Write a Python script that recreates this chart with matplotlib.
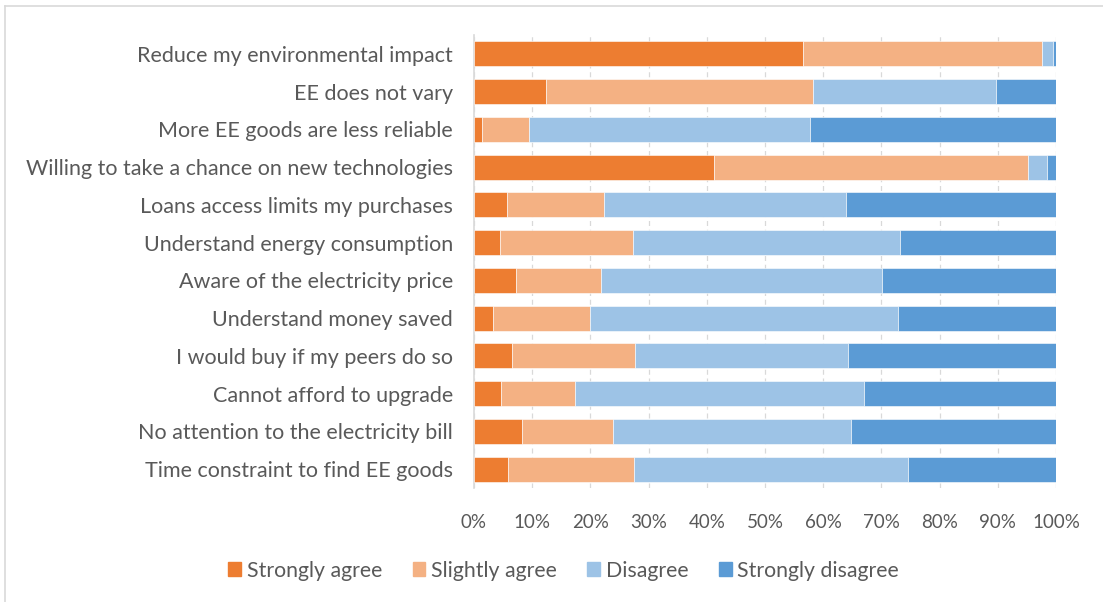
import matplotlib.pyplot as plt
from matplotlib.lines import Line2D
from matplotlib.ticker import PercentFormatter

# --- data (percent of respondents) ---
statements = [
    "Reduce my environmental impact",
    "EE does not vary",
    "More EE goods are less reliable",
    "Willing to take a chance on new technologies",
    "Loans access limits my purchases",
    "Understand energy consumption",
    "Aware of the electricity price",
    "Understand money saved",
    "I would buy if my peers do so",
    "Cannot afford to upgrade",
    "No attention to the electricity bill",
    "Time constraint to find EE goods",
]
strongly_agree = [56.5, 12.4, 1.4, 41.2, 5.6, 4.4, 7.3, 3.2, 6.5, 4.6, 8.2, 5.9]
slightly_agree = [41.1, 45.8, 8.1, 54.0, 16.8, 22.9, 14.5, 16.7, 21.1, 12.7, 15.7, 21.6]
disagree = [1.9, 31.5, 48.3, 3.2, 41.5, 45.9, 48.3, 53.0, 36.6, 49.7, 40.9, 47.0]
strongly_disagree = [0.5, 10.3, 42.2, 1.6, 36.1, 26.8, 29.9, 27.1, 35.8, 33.0, 35.2, 25.5]

series = [
    ("Strongly agree", strongly_agree, "#ED7D31"),
    ("Slightly agree", slightly_agree, "#F4B183"),
    ("Disagree", disagree, "#9DC3E6"),
    ("Strongly disagree", strongly_disagree, "#5B9BD5"),
]

plt.rcParams['font.family'] = ['Lato', 'DejaVu Sans']

fig = plt.figure(figsize=(11.03, 6.02), dpi=100)
ax = fig.add_axes([0.4297, 0.1894, 0.5277, 0.7525])

ypos = list(range(len(statements)))
left = [0.0] * len(statements)
for name, vals, col in series:
    ax.barh(ypos, vals, left=left, height=0.66, color=col, label=name,
            edgecolor="white", linewidth=0.4, zorder=3)
    left = [a + b for a, b in zip(left, vals)]

ax.set_xlim(0, 100)
ax.set_ylim(len(statements) - 0.5, -0.5)
ax.set_yticks(ypos)
ax.set_yticklabels(statements)
ax.set_xticks(range(0, 101, 10))
ax.xaxis.set_major_formatter(PercentFormatter(decimals=0))

ax.grid(axis="x", color="#D9D9D9", linestyle=(0, (4, 3)), linewidth=0.9, zorder=0)
for s in ["top", "right", "bottom"]:
    ax.spines[s].set_visible(False)
ax.spines["left"].set_color("#D9D9D9")
ax.spines["left"].set_linewidth(1.2)
ax.tick_params(axis="both", length=0, colors="#595959")
ax.tick_params(axis="y", pad=15, labelsize=15.5)
ax.tick_params(axis="x", pad=19, labelsize=13.5)

handles = [plt.Rectangle((0, 0), 1, 1, color=c) for _, _, c in series]
fig.legend(handles, [n for n, _, _ in series], loc="center",
           bbox_to_anchor=(0.511, 0.052), ncol=4, frameon=False,
           fontsize=15.3, labelcolor="#595959", handlelength=0.6,
           handleheight=0.6, handletextpad=0.25, columnspacing=1.45)

# chart area border (light gray, only top and left visible in the crop)
fig.add_artist(Line2D([5 / 1103, 1], [1 - 6 / 602, 1 - 6 / 602],
                      color="#D9D9D9", linewidth=1.2))
fig.add_artist(Line2D([5 / 1103, 5 / 1103], [0, 1 - 6 / 602],
                      color="#D9D9D9", linewidth=1.2))

fig.savefig("out.png", dpi=100)
